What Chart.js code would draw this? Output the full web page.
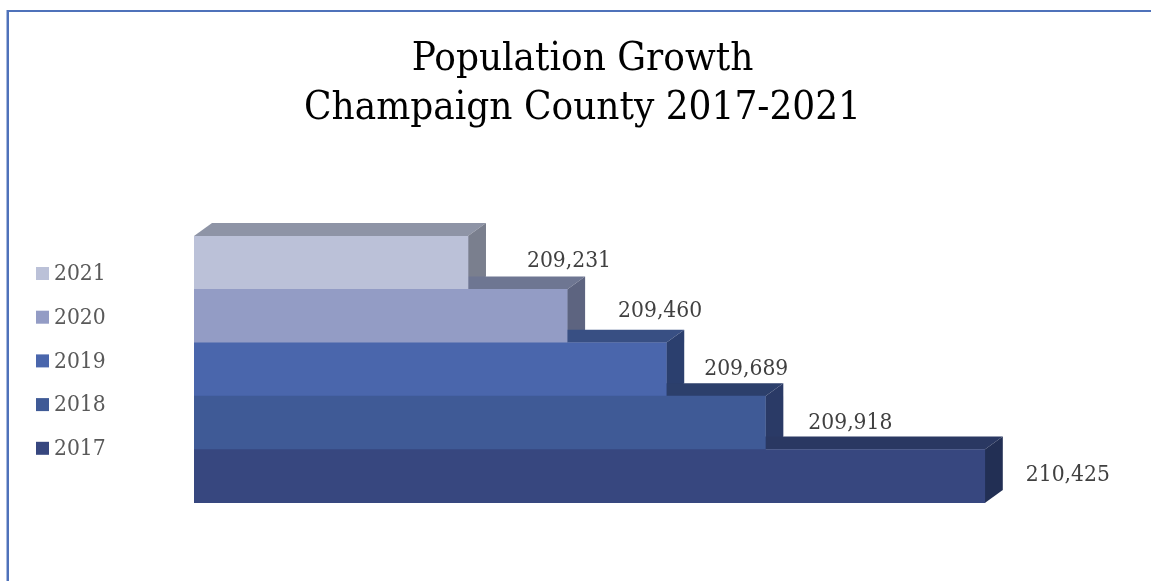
<!DOCTYPE html>
<html>
<head>
<meta charset="utf-8">
<title>Population Growth</title>
<script src="https://cdn.jsdelivr.net/npm/chart.js@4"></script>
<style>
  html, body { margin: 0; padding: 0; background: #fff; }
  #wrap { position: relative; width: 1151px; height: 581px; overflow: hidden; }
  #frame { position: absolute; left: 7px; top: 10px; right: -4px; bottom: -4px; border: 2px solid #4f72ba; box-shadow: -1px 0 0 #a9bbdf; }
  canvas { position: absolute; left: 0; top: 0; }
</style>
</head>
<body>
<div id="wrap">
  <div id="frame"></div>
  <canvas id="chart" width="1151" height="581"></canvas>
</div>
<script>
const TITLE_LINES = ['Population Growth', 'Champaign County 2017-2021'];
const YEARS = ['2021', '2020', '2019', '2018', '2017'];
const POPULATION = [209231, 209460, 209689, 209918, 210425];

const FRONT_COLORS = ['#bbc1d8', '#939cc5', '#4a66ac', '#3f5a96', '#37477f'];
const TOP_COLORS = ['#8e94a6', '#6e7692', '#384f83', '#2c3f6b', '#2a3862'];
const SIDE_COLORS = ['#7a7f8e', '#5d6480', '#2b3f6e', '#2a3a66', '#222f54'];

// labels were placed by hand in the original, so each one has its own offset from the bar end
const LABEL_DX = [59, 51, 38, 43, 41];
const LABEL_Y = [261, 311, 369, 423, 475];

const FONT = '"DejaVu Serif Condensed", "DejaVu Serif", serif';
const DEPTH_X = 18;
const DEPTH_Y = 13;

function face(ctx, color, pts) {
  ctx.fillStyle = color;
  ctx.beginPath();
  pts.forEach((p, i) => i ? ctx.lineTo(p[0], p[1]) : ctx.moveTo(p[0], p[1]));
  ctx.closePath();
  ctx.fill();
}

// 3D top and side of the bars, behind the bars themselves
const depthFaces = {
  id: 'depthFaces',
  beforeDatasetsDraw(chart) {
    const ctx = chart.ctx;
    const left = chart.chartArea.left;
    chart.getDatasetMeta(0).data.forEach((bar, i) => {
      const t = bar.y - bar.height / 2;
      const b = bar.y + bar.height / 2;
      face(ctx, TOP_COLORS[i], [[left, t], [bar.x, t], [bar.x + DEPTH_X, t - DEPTH_Y], [left + DEPTH_X, t - DEPTH_Y]]);
      face(ctx, SIDE_COLORS[i], [[bar.x, t], [bar.x + DEPTH_X, t - DEPTH_Y], [bar.x + DEPTH_X, b - DEPTH_Y], [bar.x, b]]);
    });
  }
};

// value labels and the legend column on the left
const annotations = {
  id: 'annotations',
  afterDatasetsDraw(chart) {
    const ctx = chart.ctx;
    ctx.save();
    ctx.font = '22.6px ' + FONT;
    ctx.textBaseline = 'middle';
    ctx.textAlign = 'left';
    chart.getDatasetMeta(0).data.forEach((bar, i) => {
      ctx.fillStyle = '#404040';
      ctx.fillText(POPULATION[i].toLocaleString('en-US'), bar.x + LABEL_DX[i], LABEL_Y[i]);
      const legendY = 273.5 + i * 43.7;
      ctx.fillStyle = FRONT_COLORS[i];
      ctx.fillRect(36, legendY - 6.5, 13, 13);
      ctx.fillStyle = '#595959';
      ctx.fillText(YEARS[i], 54, legendY + 1);
    });
    ctx.restore();
  }
};

new Chart(document.getElementById('chart'), {
  type: 'bar',
  data: {
    labels: YEARS,
    datasets: [{
      data: POPULATION,
      backgroundColor: FRONT_COLORS,
      borderWidth: 0,
      barPercentage: 1,
      categoryPercentage: 1
    }]
  },
  options: {
    indexAxis: 'y',
    responsive: false,
    animation: false,
    layout: { padding: { left: 14, right: 0, top: 0, bottom: 78 } },
    plugins: {
      legend: { display: false },
      tooltip: { enabled: false },
      title: {
        display: true,
        text: TITLE_LINES,
        color: '#000',
        font: { family: FONT, size: 40, weight: 'normal', lineHeight: 1.225 },
        padding: { top: 35, bottom: 103 }
      }
    },
    scales: {
      x: { display: false, min: 208598, max: 210809 },
      y: {
        grid: { display: false },
        border: { display: false },
        ticks: { display: false },
        afterFit(scale) { scale.width = 180; }
      }
    }
  },
  plugins: [depthFaces, annotations]
});
</script>
</body>
</html>
